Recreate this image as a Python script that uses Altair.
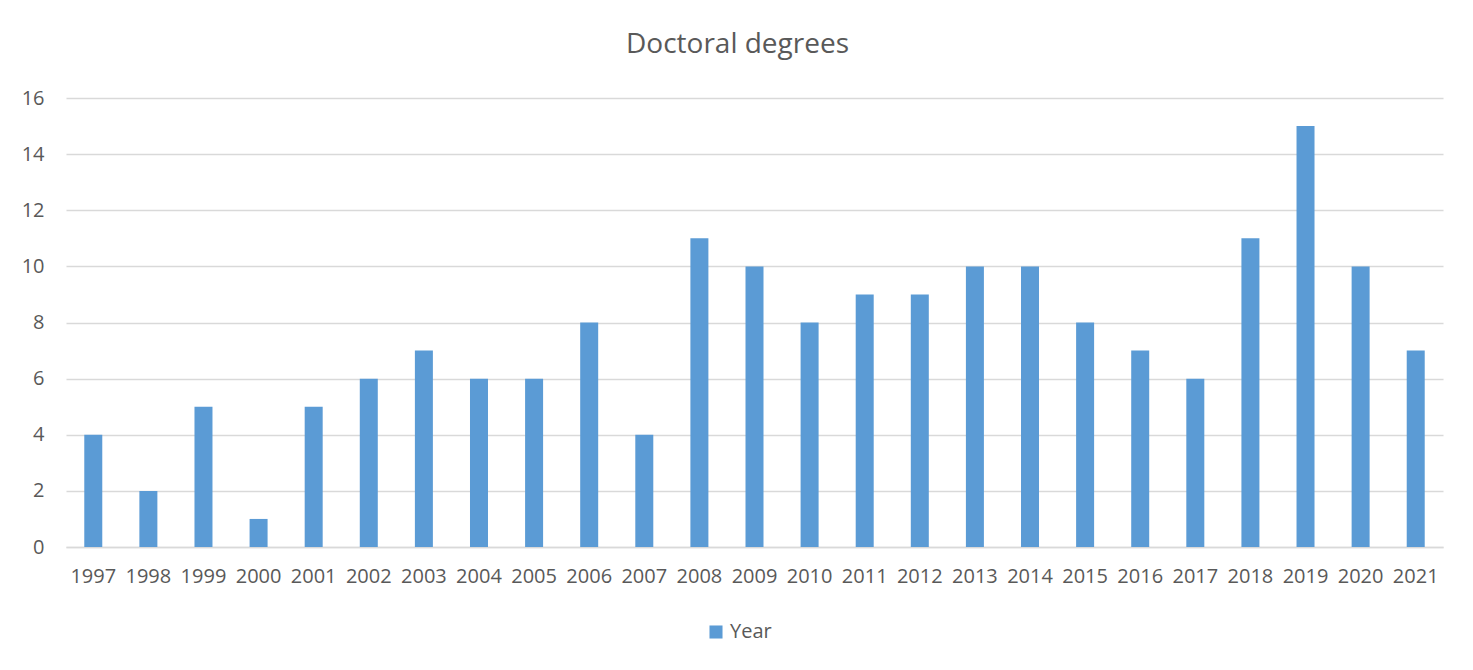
import altair as alt
import pandas as pd

years = [str(y) for y in range(1997, 2022)]
values = [4, 2, 5, 1, 5, 6, 7, 6, 6, 8, 4, 11, 10, 8, 9, 9, 10, 10, 8, 7, 6, 11, 15, 10, 7]
series = ["Year"] * len(years)

df = pd.DataFrame({"year": years, "value": values, "series": series})

FONT = "Open Sans"
GRAY = "#595959"

chart = alt.Chart(df).mark_bar(size=18).encode(
    x=alt.X("year:N", sort=years, title=None,
            scale=alt.Scale(paddingInner=0.67, paddingOuter=0.33),
            axis=alt.Axis(labelAngle=0, labelFontSize=20, labelColor=GRAY, labelFont=FONT,
                          ticks=False, domainColor="#d9d9d9", domainWidth=1.5,
                          labelPadding=19, grid=False)),
    y=alt.Y("value:Q", title=None,
            scale=alt.Scale(domain=[0, 16]),
            axis=alt.Axis(values=list(range(0, 17, 2)), labelFontSize=20, labelColor=GRAY,
                          labelFont=FONT, ticks=False, domain=False, gridColor="#d9d9d9",
                          gridWidth=1.5, labelPadding=22)),
    color=alt.Color("series:N", scale=alt.Scale(range=["#5B9BD5"]),
                    legend=alt.Legend(title=None, orient="none", legendX=640, legendY=524,
                                      symbolType="square", symbolSize=170,
                                      labelFontSize=20, labelColor=GRAY, labelFont=FONT)),
).properties(
    width=1377, height=449,
    background="white",
    title=alt.TitleParams("Doctoral degrees", fontSize=28, font=FONT, color=GRAY,
                          fontWeight="normal", anchor="middle", dx=-17, offset=29),
    autosize=alt.AutoSizeParams(type="none"),
    padding={"left": 58, "top": 90, "right": 22, "bottom": 100},
).configure_view(stroke=None)

chart.save("out.html", embed_options={"renderer": "svg", "actions": False})
